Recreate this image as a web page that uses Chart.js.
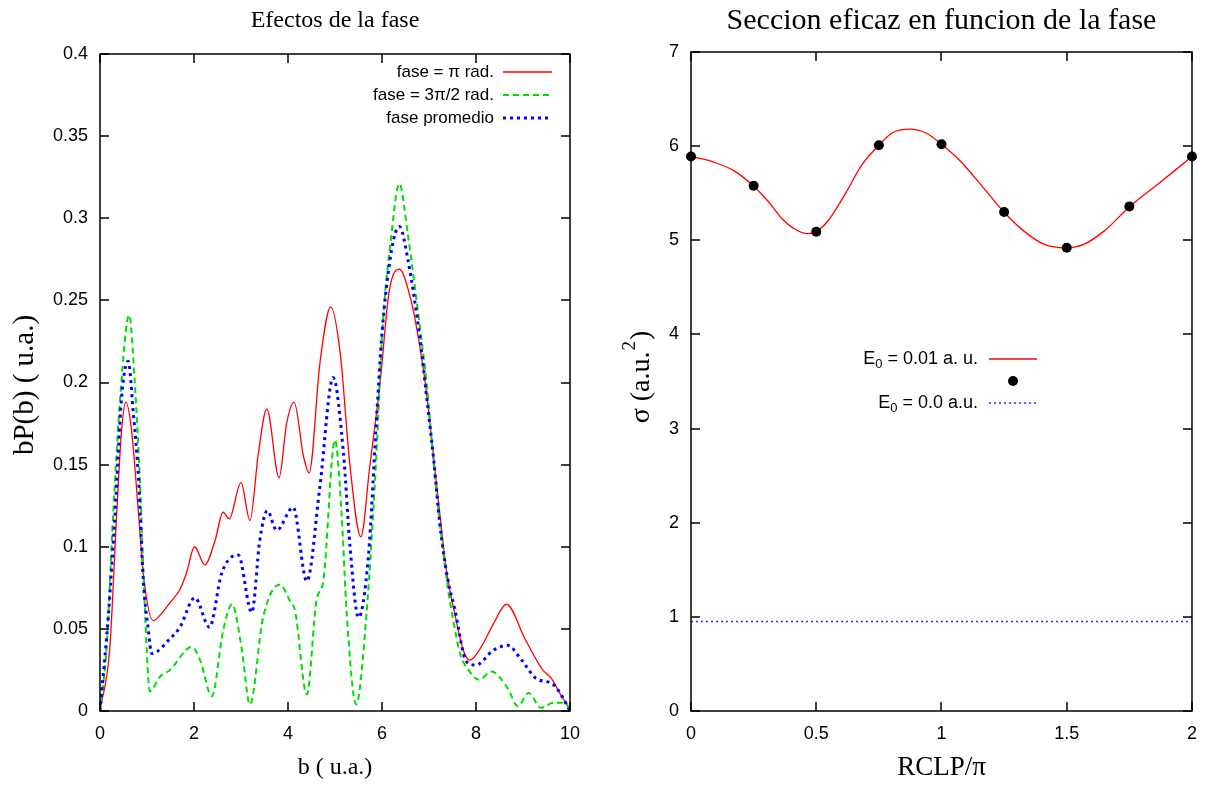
<!DOCTYPE html>
<html>
<head>
<meta charset="utf-8">
<script src="https://cdn.jsdelivr.net/npm/chart.js@4.4.1/dist/chart.umd.min.js"></script>
<style>
  html, body { margin: 0; padding: 0; background: #fff; }
  #wrap { position: relative; width: 1209px; height: 787px; }
  #left { position: absolute; left: 0; top: 0; }
  #right { position: absolute; left: 600px; top: 0; }
</style>
</head>
<body>
<div id="wrap">
  <canvas id="left" width="600" height="787"></canvas>
  <canvas id="right" width="609" height="787"></canvas>
</div>
<script>
// left panel: bP(b) vs b, three phases
const redB = [0, 0.21, 0.355, 0.46, 0.55, 0.67, 0.82, 0.92, 1.13, 1.3, 1.49, 1.7, 1.84, 2.01, 2.23, 2.45, 2.62, 2.75, 3.0, 3.19, 3.37, 3.55, 3.81, 3.97, 4.13, 4.33, 4.45, 4.68, 4.91, 5.11, 5.32, 5.55, 5.74, 5.96, 6.15, 6.37, 6.6, 6.77, 6.91, 7.09, 7.23, 7.38, 7.55, 7.73, 7.87, 8.09, 8.37, 8.65, 9.04, 9.42, 9.6, 9.8, 10];
const redP = [0, 0.039, 0.12, 0.171, 0.188, 0.171, 0.12, 0.084, 0.055, 0.059, 0.066, 0.074, 0.084, 0.1, 0.089, 0.104, 0.121, 0.117, 0.139, 0.116, 0.157, 0.184, 0.142, 0.175, 0.188, 0.155, 0.145, 0.212, 0.246, 0.218, 0.149, 0.106, 0.149, 0.2, 0.255, 0.269, 0.252, 0.228, 0.202, 0.157, 0.12, 0.084, 0.059, 0.037, 0.031, 0.038, 0.053, 0.065, 0.044, 0.025, 0.02, 0.01, 0.001];

const greenB = [0, 0.14, 0.28, 0.43, 0.62, 0.74, 0.85, 0.96, 1.06, 1.28, 1.49, 1.95, 2.13, 2.38, 2.62, 2.81, 3.01, 3.19, 3.47, 3.83, 4.04, 4.15, 4.4, 4.61, 4.75, 5.0, 5.14, 5.25, 5.45, 5.67, 5.89, 6.0, 6.2, 6.37, 6.55, 6.84, 6.95, 7.1, 7.25, 7.4, 7.5, 7.66, 7.84, 8.06, 8.33, 8.67, 8.89, 9.12, 9.38, 9.65, 9.9, 10];
const greenP = [0, 0.039, 0.12, 0.191, 0.241, 0.2, 0.14, 0.059, 0.012, 0.021, 0.025, 0.039, 0.031, 0.009, 0.049, 0.065, 0.039, 0.004, 0.057, 0.077, 0.067, 0.061, 0.01, 0.068, 0.079, 0.165, 0.12, 0.059, 0.004, 0.059, 0.161, 0.228, 0.29, 0.321, 0.29, 0.226, 0.2, 0.15, 0.11, 0.075, 0.058, 0.035, 0.025, 0.019, 0.024, 0.014, 0.003, 0.011, 0.002, 0.005, 0.005, 0];

const blueB = [0, 0.18, 0.32, 0.46, 0.6, 0.71, 0.82, 0.92, 1.03, 1.1, 1.49, 1.7, 2.02, 2.33, 2.59, 2.94, 3.23, 3.4, 3.56, 3.76, 4.11, 4.4, 4.68, 4.96, 5.18, 5.32, 5.5, 5.71, 5.89, 6.0, 6.2, 6.37, 6.55, 6.81, 6.95, 7.1, 7.23, 7.4, 7.54, 7.8, 8.0, 8.37, 8.67, 8.97, 9.27, 9.65, 9.85, 10];
const blueP = [0, 0.059, 0.12, 0.191, 0.213, 0.181, 0.141, 0.08, 0.049, 0.035, 0.044, 0.051, 0.069, 0.051, 0.084, 0.095, 0.06, 0.104, 0.122, 0.11, 0.124, 0.079, 0.137, 0.203, 0.157, 0.1, 0.057, 0.094, 0.181, 0.23, 0.28, 0.295, 0.275, 0.226, 0.191, 0.153, 0.114, 0.08, 0.063, 0.03, 0.028, 0.037, 0.04, 0.031, 0.02, 0.016, 0.008, 0];

const leftXTicks = [0, 2, 4, 6, 8, 10];
const leftYTicks = [0, 0.05, 0.1, 0.15, 0.2, 0.25, 0.3, 0.35, 0.4];

// right panel: cross section vs RCLP/pi
const curveX = [0, 0.091, 0.171, 0.248, 0.306, 0.36, 0.414, 0.467, 0.498, 0.548, 0.615, 0.682, 0.75, 0.803, 0.871, 0.938, 1.0, 1.072, 1.167, 1.249, 1.328, 1.408, 1.5, 1.57, 1.65, 1.752, 1.866, 2.0];
const curveSigma = [5.89, 5.83, 5.74, 5.58, 5.42, 5.24, 5.12, 5.07, 5.09, 5.21, 5.49, 5.8, 6.01, 6.14, 6.18, 6.14, 6.02, 5.85, 5.56, 5.3, 5.1, 4.96, 4.92, 4.96, 5.1, 5.36, 5.6, 5.89];
const phase = [0, 0.25, 0.5, 0.75, 1, 1.25, 1.5, 1.75, 2];
const sigma = [5.89, 5.58, 5.09, 6.01, 6.02, 5.3, 4.92, 5.36, 5.89];
const noFieldX = [0, 2];
const noFieldSigma = [0.95, 0.95];

const rightXTicks = [0, 0.5, 1, 1.5, 2];
const rightYTicks = [0, 1, 2, 3, 4, 5, 6, 7];

const toPoints = (xs, ys) => xs.map((x, i) => ({ x, y: ys[i] }));

const SANS = "'Liberation Sans Narrow', 'Liberation Sans', Arial, sans-serif";
const SERIF = "'Liberation Serif', 'Times New Roman', serif";

// draws "E", subscript "0", then the rest; right-aligned at x
function drawSubLabel(ctx, main, sub, rest, xRight, y, size) {
  ctx.font = `${size}px ${SANS}`;
  const w1 = ctx.measureText(main).width;
  const w3 = ctx.measureText(rest).width;
  ctx.font = `${Math.round(size * 0.7)}px ${SANS}`;
  const w2 = ctx.measureText(sub).width;
  let x = xRight - (w1 + w2 + w3);
  ctx.textAlign = "left";
  ctx.font = `${size}px ${SANS}`;
  ctx.fillText(main, x, y);
  x += w1;
  ctx.font = `${Math.round(size * 0.7)}px ${SANS}`;
  ctx.fillText(sub, x, y + size * 0.3);
  x += w2;
  ctx.font = `${size}px ${SANS}`;
  ctx.fillText(rest, x, y);
}

const framePlugin = {
  id: "frame",
  afterDraw(chart, args, opts) {
    const { ctx, chartArea: a, scales } = chart;
    const tl = 9;
    ctx.save();
    ctx.strokeStyle = "#000";
    ctx.lineWidth = 1.5;
    ctx.beginPath();
    scales.x.ticks.forEach((t) => {
      const px = Math.round(scales.x.getPixelForValue(t.value));
      ctx.moveTo(px, a.bottom); ctx.lineTo(px, a.bottom - tl);
      ctx.moveTo(px, a.top); ctx.lineTo(px, a.top + tl);
    });
    scales.y.ticks.forEach((t) => {
      const py = Math.round(scales.y.getPixelForValue(t.value));
      ctx.moveTo(a.left, py); ctx.lineTo(a.left + tl, py);
      ctx.moveTo(a.right, py); ctx.lineTo(a.right - tl, py);
    });
    ctx.stroke();
    ctx.strokeRect(a.left, a.top, a.right - a.left, a.bottom - a.top);

    ctx.fillStyle = "#000";
    ctx.textBaseline = "middle";
    ctx.textAlign = "center";
    const cx = (a.left + a.right) / 2;
    ctx.font = `${opts.titleSize}px ${SERIF}`;
    ctx.fillText(opts.title, cx, opts.titleY);
    ctx.font = `${opts.xTitleSize}px ${SERIF}`;
    ctx.fillText(opts.xTitle, cx, 768);

    // rotated y title
    const ys = opts.yTitleSize;
    ctx.save();
    ctx.translate(opts.yTitleX, opts.yTitleY);
    ctx.rotate(-Math.PI / 2);
    ctx.font = `${ys}px ${SERIF}`;
    if (opts.ySup) {
      const w1 = ctx.measureText(opts.yTitle).width;
      ctx.font = `${Math.round(ys * 0.68)}px ${SERIF}`;
      const w2 = ctx.measureText(opts.ySup).width;
      ctx.font = `${ys}px ${SERIF}`;
      const w3 = ctx.measureText(opts.yTail).width;
      let x = -(w1 + w2 + w3) / 2;
      ctx.textAlign = "left";
      ctx.fillText(opts.yTitle, x, 0);
      x += w1;
      ctx.font = `${Math.round(ys * 0.68)}px ${SERIF}`;
      ctx.fillText(opts.ySup, x + 1, -ys * 0.42);
      x += w2 + 2;
      ctx.font = `${ys}px ${SERIF}`;
      ctx.fillText(opts.yTail, x, 0);
    } else {
      ctx.fillText(opts.yTitle, 0, 0);
    }
    ctx.restore();

    // legend
    const lg = opts.legend;
    chart.data.datasets.forEach((ds, i) => {
      const y = lg.y + i * lg.gap;
      ctx.textAlign = "right";
      ctx.fillStyle = "#000";
      if (ds.label) {
        if (ds.sub) drawSubLabel(ctx, ds.label, ds.sub, ds.rest, lg.textRight, y, lg.size);
        else {
          ctx.font = `${lg.size}px ${SANS}`;
          ctx.fillText(ds.label, lg.textRight, y);
        }
      }
      if (ds.showLine === false) {
        ctx.beginPath();
        ctx.fillStyle = ds.pointBackgroundColor;
        ctx.arc((lg.x0 + lg.x1) / 2, y, ds.pointRadius, 0, Math.PI * 2);
        ctx.fill();
      } else {
        ctx.beginPath();
        ctx.strokeStyle = ds.borderColor;
        ctx.lineWidth = ds.borderWidth;
        ctx.setLineDash(ds.borderDash || []);
        ctx.moveTo(lg.x0, y);
        ctx.lineTo(lg.x1, y);
        ctx.stroke();
        ctx.setLineDash([]);
      }
    });
    ctx.restore();
  },
};

const tickFont = { family: SANS, size: 18 };

function axes(xMin, xMax, xTicks, yMin, yMax, yTicks, yWidth) {
  return {
    x: {
      type: "linear", min: xMin, max: xMax,
      afterBuildTicks: (s) => { s.ticks = xTicks.map((v) => ({ value: v })); },
      ticks: { color: "#000", font: tickFont, padding: 12, maxRotation: 0, callback: (v) => String(v) },
      grid: { display: false, drawTicks: false },
      border: { display: false },
      afterFit: (s) => { s.height = 40; },
    },
    y: {
      type: "linear", min: yMin, max: yMax,
      afterBuildTicks: (s) => { s.ticks = yTicks.map((v) => ({ value: v })); },
      ticks: { color: "#000", font: tickFont, padding: 12, callback: (v) => String(v) },
      grid: { display: false, drawTicks: false },
      border: { display: false },
      afterFit: (s) => { s.width = yWidth; },
    },
  };
}

new Chart(document.getElementById("left"), {
  type: "line",
  data: {
    datasets: [
      { label: "fase = π rad.", data: toPoints(redB, redP), borderColor: "#ff0000", borderWidth: 1.3, order: 2 },
      { label: "fase = 3π/2 rad.", data: toPoints(greenB, greenP), borderColor: "#00dd00", borderWidth: 2, borderDash: [6, 4], order: 1 },
      { label: "fase promedio", data: toPoints(blueB, blueP), borderColor: "#0000ff", borderWidth: 3, borderDash: [3, 4], order: 0 },
    ],
  },
  options: {
    responsive: false,
    animation: false,
    layout: { padding: { left: 0, right: 30, top: 54, bottom: 36 } },
    elements: { point: { radius: 0 }, line: { cubicInterpolationMode: "monotone" } },
    plugins: {
      legend: { display: false },
      tooltip: { enabled: false },
      frame: {
        title: "Efectos de la fase", titleSize: 24, titleY: 21,
        xTitle: "b ( u.a.)", xTitleSize: 24,
        yTitle: "bP(b) ( u.a.)", yTitleSize: 29, yTitleX: 25, yTitleY: 385,
        legend: { y: 72, gap: 23, textRight: 494, x0: 503, x1: 552, size: 17 },
      },
    },
    scales: axes(0, 10, leftXTicks, 0, 0.4, leftYTicks, 100),
  },
  plugins: [framePlugin],
});

new Chart(document.getElementById("right"), {
  type: "line",
  data: {
    datasets: [
      { label: "E", sub: "0", rest: " = 0.01 a. u.", data: toPoints(curveX, curveSigma), borderColor: "#ff0000", borderWidth: 1.3, pointRadius: 0, order: 2 },
      { label: "", data: toPoints(phase, sigma), showLine: false, pointRadius: 5, pointBackgroundColor: "#000", pointBorderColor: "#000", pointBorderWidth: 0, clip: 10, order: 0 },
      { label: "E", sub: "0", rest: " = 0.0 a.u.", data: toPoints(noFieldX, noFieldSigma), borderColor: "#2a2aff", borderWidth: 1.4, borderDash: [2, 3], pointRadius: 0, order: 1 },
    ],
  },
  options: {
    responsive: false,
    animation: false,
    layout: { padding: { left: 0, right: 13, top: 52, bottom: 36 } },
    elements: { line: { cubicInterpolationMode: "monotone" } },
    plugins: {
      legend: { display: false },
      tooltip: { enabled: false },
      frame: {
        title: "Seccion eficaz en funcion de la fase", titleSize: 30, titleY: 21,
        xTitle: "RCLP/π", xTitleSize: 27,
        yTitle: "σ (a.u.", ySup: "2", yTail: ")", yTitleSize: 28, yTitleX: 42, yTitleY: 378,
        legend: { y: 359, gap: 22, textRight: 378, x0: 389, x1: 437, size: 18 },
      },
    },
    scales: axes(0, 2, rightXTicks, 0, 7, rightYTicks, 91),
  },
  plugins: [framePlugin],
});
</script>
</body>
</html>
